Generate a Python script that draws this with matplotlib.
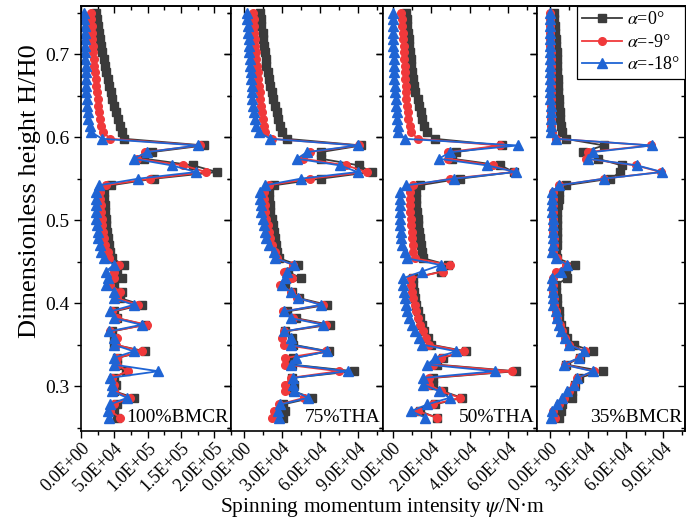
import matplotlib
matplotlib.use("Agg")
import matplotlib.pyplot as plt
from matplotlib.ticker import MultipleLocator, FuncFormatter

plt.rcParams['font.family'] = ['Liberation Serif', 'DejaVu Serif']
plt.rcParams['mathtext.fontset'] = 'stix'

SCALE = 1e4  # values below are in units of 1E+04 N*m

heights = [0.750, 0.742, 0.734, 0.726, 0.718, 0.710, 0.702, 0.694, 0.686, 0.678,
           0.670, 0.662, 0.654, 0.646, 0.638, 0.630, 0.622, 0.614, 0.606, 0.598,
           0.590, 0.582, 0.574, 0.566, 0.558, 0.550, 0.542, 0.534, 0.526, 0.518,
           0.510, 0.502, 0.494, 0.486, 0.478, 0.470, 0.462, 0.454, 0.446, 0.438,
           0.430, 0.422, 0.414, 0.406, 0.398, 0.390, 0.382, 0.374, 0.366, 0.358,
           0.350, 0.342, 0.334, 0.326, 0.318, 0.310, 0.302, 0.294, 0.286, 0.278,
           0.270, 0.262]

series_labels = [r'$\alpha$=0°', r'$\alpha$=-9°', r'$\alpha$=-18°']
panel_labels = ['100%BMCR', '75%THA', '50%THA', '35%BMCR']

# ---- 100%BMCR ----
bmcr100_a0 = [2.2, 2.4, 2.5, 2.7, 2.9, 3.0, 3.2, 3.4, 3.6, 3.8, 4.0, 4.2, 4.5, 4.7, 5.0, 5.3, 5.6, 5.9, 6.2, 6.5,
              18.5, 10.6, 9.5, 16.8, 20.4, 11.0, 4.5,
              3.5, 3.5, 3.6, 3.6, 3.7, 3.8, 3.9, 4.0, 4.2, 4.4,
              4.7, 6.4, 5.4, 6.2, 5.0, 6.2, 5.9, 9.1, 5.0, 5.4, 9.6, 4.7, 5.0, 5.0, 9.6, 5.4, 5.4, 6.8, 5.0, 5.2, 5.0, 7.9, 5.4, 5.0, 5.4]
bmcr100_a9 = [1.5, 1.55, 1.6, 1.65, 1.7, 1.75, 1.8, 1.9, 2.0, 2.1, 2.2, 2.3, 2.4, 2.5, 2.6, 2.7, 2.8, 3.0, 3.3, 4.4,
              17.8, 9.6, 8.4, 15.3, 18.8, 10.4, 3.7,
              2.9, 2.9, 3.0, 3.0, 3.1, 3.2, 3.3, 3.4, 3.6, 4.0,
              4.2, 5.7, 4.9, 4.9, 4.4, 5.9, 5.4, 8.6, 4.7, 5.4, 9.9, 4.4, 5.4, 5.2, 9.1, 5.4, 5.4, 7.0, 4.7, 4.9, 4.9, 7.4, 4.9, 4.4, 5.9]
bmcr100_a18 = [0.5, 0.5, 0.55, 0.55, 0.6, 0.6, 0.6, 0.65, 0.7, 0.7, 0.75, 0.75, 0.8, 0.85, 0.9, 1.0, 1.1, 1.3, 1.5, 3.2,
               17.5, 9.9, 7.9, 13.6, 17.3, 8.6, 2.7,
               2.2, 2.2, 2.2, 2.3, 2.3, 2.4, 2.5, 2.6, 2.8, 3.0,
               3.5, 4.9, 3.7, 4.0, 3.7, 4.9, 4.9, 7.9, 4.4, 4.9, 9.1, 4.2, 4.9, 4.9, 7.9, 4.9, 4.9, 11.6, 4.4, 4.7, 4.7, 6.9, 4.4, 4.0, 4.2]

# ---- 75%THA ----
tha75_a0 = [1.3, 1.35, 1.4, 1.5, 1.55, 1.6, 1.7, 1.75, 1.8, 1.9, 2.0, 2.1, 2.2, 2.3, 2.45, 2.6, 2.7, 2.85, 3.0, 3.4,
            9.3, 6.1, 6.1, 9.1, 10.1, 6.1, 2.4,
            2.0, 2.0, 2.05, 2.1, 2.2, 2.3, 2.4, 2.5, 2.55, 2.6,
            2.8, 4.3, 3.5, 4.5, 3.3, 3.8, 4.4, 6.6, 3.4, 4.1, 6.8, 3.3, 3.8, 3.9, 6.7, 3.9, 3.8, 8.7, 3.8, 4.0, 3.9, 5.4, 3.1, 3.3, 3.1]
tha75_a9 = [0.75, 0.78, 0.8, 0.85, 0.9, 0.92, 0.95, 1.0, 1.05, 1.1, 1.15, 1.2, 1.25, 1.3, 1.35, 1.45, 1.5, 1.6, 1.7, 2.2,
            9.1, 5.2, 4.7, 8.1, 9.7, 5.2, 2.0,
            1.6, 1.6, 1.65, 1.7, 1.8, 1.9, 2.0, 2.1, 2.2, 2.5,
            2.6, 3.9, 3.2, 3.8, 2.9, 3.7, 4.2, 6.3, 3.1, 3.9, 6.5, 3.2, 3.0, 3.2, 6.5, 3.3, 3.3, 7.5, 3.7, 3.3, 3.3, 4.8, 2.8, 2.4, 2.2]
tha75_a18 = [0.26, 0.3, 0.33, 0.36, 0.4, 0.43, 0.46, 0.5, 0.53, 0.56, 0.6, 0.62, 0.64, 0.66, 0.7, 0.78, 0.86, 0.96, 1.2, 2.1,
             9.0, 5.0, 4.2, 7.6, 9.0, 4.5, 1.7,
             1.3, 1.3, 1.35, 1.4, 1.5, 1.6, 1.7, 1.8, 2.0, 2.4,
             2.5, 4.0, 3.4, 3.3, 3.0, 3.7, 4.3, 6.1, 3.2, 3.7, 6.3, 3.2, 3.7, 3.7, 6.6, 4.1, 3.7, 8.2, 3.9, 3.9, 4.0, 5.1, 2.9, 2.7, 2.8]

# ---- 50%THA ----
tha50_a0 = [0.71, 0.74, 0.77, 0.8, 0.83, 0.86, 0.9, 0.93, 0.97, 1.0, 1.05, 1.1, 1.15, 1.3, 1.35, 1.45, 1.55, 1.65, 1.8, 2.2,
            5.7, 3.3, 3.1, 5.6, 6.3, 3.5, 1.4,
            1.2, 1.2, 1.2, 1.25, 1.3, 1.3, 1.35, 1.4, 1.45, 1.5,
            1.6, 2.9, 2.5, 1.05, 1.05, 1.1, 1.15, 1.2, 1.3, 1.4, 1.5, 1.65, 1.85, 2.0, 3.8, 2.6, 2.3, 6.4, 2.1, 2.1, 2.6, 3.6, 2.2, 1.4, 2.3]
tha50_a9 = [0.45, 0.47, 0.5, 0.52, 0.55, 0.57, 0.6, 0.61, 0.62, 0.64, 0.66, 0.68, 0.7, 0.71, 0.74, 0.78, 0.82, 0.88, 0.97, 1.3,
            5.6, 2.9, 2.9, 5.2, 6.3, 3.0, 1.06,
            0.9, 0.9, 0.9, 0.92, 0.95, 0.97, 1.0, 1.02, 1.05, 1.06,
            1.15, 2.96, 2.6, 0.97, 0.97, 1.0, 1.05, 1.14, 1.22, 1.31, 1.42, 1.57, 1.75, 1.9, 3.7, 2.5, 2.1, 6.2, 1.9, 1.9, 2.5, 3.5, 2.1, 1.3, 2.3]
tha50_a18 = [0.02, 0.02, 0.03, 0.03, 0.04, 0.04, 0.05, 0.05, 0.05, 0.07, 0.09, 0.11, 0.13, 0.15, 0.18, 0.21, 0.24, 0.27, 0.3, 0.62,
             6.5, 3.0, 2.4, 4.9, 6.4, 3.2, 0.71,
             0.36, 0.36, 0.36, 0.37, 0.38, 0.4, 0.42, 0.45, 0.5, 0.62,
             0.75, 2.5, 1.5, 0.54, 0.54, 0.58, 0.62, 0.7, 0.75, 0.85, 1.0, 1.14, 1.35, 1.55, 3.3, 2.2, 1.8, 5.3, 1.6, 1.6, 2.4, 2.96, 1.8, 0.97, 1.7]

# ---- 35%BMCR ----
bmcr35_a0 = [0.34, 0.37, 0.4, 0.45, 0.5, 0.52, 0.55, 0.58, 0.6, 0.62, 0.64, 0.66, 0.68, 0.73, 0.76, 0.8, 0.85, 0.9, 1.0, 1.26,
             4.3, 2.6, 3.8, 5.7, 5.6, 4.8, 1.26,
             0.75, 0.7, 0.65, 0.6, 0.6, 0.6, 0.6, 0.6, 0.55, 0.5,
             0.6, 2.0, 1.3, 1.4, 0.47, 0.5, 0.55, 0.6, 0.7, 0.75, 0.9, 1.1, 1.4, 1.9, 3.4, 2.4, 1.3, 4.2, 2.3, 2.0, 1.8, 1.8, 1.0, 0.86, 0.75]
bmcr35_a9 = [0.05, 0.05, 0.05, 0.06, 0.06, 0.06, 0.07, 0.07, 0.07, 0.08, 0.08, 0.08, 0.09, 0.09, 0.1, 0.1, 0.11, 0.12, 0.15, 0.5,
             8.0, 3.0, 2.9, 6.8, 8.8, 4.3, 0.74,
             0.25, 0.25, 0.25, 0.28, 0.3, 0.3, 0.3, 0.32, 0.32, 0.3,
             0.55, 1.3, 0.5, 0.3, 0.28, 0.3, 0.35, 0.38, 0.5, 0.6, 0.8, 0.95, 1.25, 1.55, 2.8, 2.3, 1.2, 3.5, 2.2, 1.9, 1.5, 1.1, 0.7, 0.3, 0.4]
bmcr35_a18 = [0.02, 0.02, 0.02, 0.03, 0.03, 0.03, 0.04, 0.04, 0.04, 0.05, 0.05, 0.05, 0.06, 0.06, 0.07, 0.07, 0.08, 0.09, 0.1, 0.47,
              8.1, 3.4, 3.0, 6.9, 8.9, 4.3, 0.74,
              0.2, 0.2, 0.2, 0.22, 0.24, 0.25, 0.26, 0.28, 0.28, 0.2,
              0.5, 1.4, 0.9, 0.2, 0.2, 0.25, 0.3, 0.3, 0.47, 0.55, 0.75, 0.9, 1.2, 1.5, 2.7, 2.3, 1.1, 3.4, 2.2, 1.9, 1.4, 1.0, 0.6, 0.2, 0.08]

panels = [
    (bmcr100_a0, bmcr100_a9, bmcr100_a18),
    (tha75_a0, tha75_a9, tha75_a18),
    (tha50_a0, tha50_a9, tha50_a18),
    (bmcr35_a0, bmcr35_a9, bmcr35_a18),
]
xlims = [(0, 22.5), (-1.0, 11.0), (-0.5, 7.5), (-1.0, 10.7)]
major_steps = [5.0, 3.0, 2.0, 3.0]

colors = ['#3b3b3b', '#f0393b', '#1f64d4']
markers = ['s', 'o', '^']
msizes = [5.5, 5.5, 6.5]

W, H = 686, 520
fig = plt.figure(figsize=(W / 100, H / 100), dpi=100)
edges = [81, 231, 383, 537, 685]
top_px, bot_px = 6, 431

fmt = FuncFormatter(lambda v, p: '%.1E' % v)
axes = []
for i in range(4):
    l, r = edges[i], edges[i + 1]
    ax = fig.add_axes([l / W, 1 - bot_px / H, (r - l) / W, (bot_px - top_px) / H])
    axes.append(ax)
    for j in range(3):
        ax.plot([v * SCALE for v in panels[i][j]], heights, color=colors[j], marker=markers[j],
                ms=msizes[j], mec=colors[j], mfc=colors[j], lw=1.3, label=series_labels[j])
    ax.set_xlim(xlims[i][0] * SCALE, xlims[i][1] * SCALE)
    ax.set_ylim(0.246, 0.758)
    xmaj = MultipleLocator(major_steps[i] * SCALE)
    xmin = MultipleLocator(major_steps[i] * SCALE / 2)
    ax.xaxis.set_major_locator(xmaj)
    ax.xaxis.set_minor_locator(xmin)
    ax.xaxis.set_major_formatter(fmt)
    ax.yaxis.set_major_locator(MultipleLocator(0.1))
    ax.yaxis.set_minor_locator(MultipleLocator(0.05))
    for s in ax.spines.values():
        s.set_linewidth(1.2)
    ax.tick_params(axis='both', which='both', direction='out', width=1.0, top=False, right=False)
    ax.tick_params(axis='x', which='major', length=5, labelsize=13, pad=1)
    ax.tick_params(axis='y', which='major', length=5, labelsize=14)
    ax.tick_params(axis='both', which='minor', length=3)
    for lab in ax.get_xticklabels():
        lab.set_rotation(45)
        lab.set_ha('right')
        lab.set_va('top')
        lab.set_rotation_mode('anchor')
    if i > 0:
        ax.tick_params(axis='y', labelleft=False)

    # inward ticks on the top and right frames
    sx = ax.secondary_xaxis('top')
    sx.xaxis.set_major_locator(MultipleLocator(major_steps[i] * SCALE))
    sx.xaxis.set_minor_locator(MultipleLocator(major_steps[i] * SCALE / 2))
    sx.tick_params(axis='x', which='both', direction='in', width=1.0, labeltop=False)
    sx.tick_params(axis='x', which='major', length=5)
    sx.tick_params(axis='x', which='minor', length=3)
    sx.spines['top'].set_linewidth(1.2)
    sy = ax.secondary_yaxis('right')
    sy.yaxis.set_major_locator(MultipleLocator(0.1))
    sy.yaxis.set_minor_locator(MultipleLocator(0.05))
    sy.tick_params(axis='y', which='both', direction='in', width=1.0, labelright=False)
    sy.tick_params(axis='y', which='major', length=5)
    sy.tick_params(axis='y', which='minor', length=3)
    sy.spines['right'].set_linewidth(1.2)

    ax.text(0.982, 0.022, panel_labels[i], transform=ax.transAxes, ha='right', va='baseline', fontsize=14)

fig.text(30 / W, 1 - 191 / H, 'Dimensionless height H/H0', rotation=90, ha='center', va='center', fontsize=19)
fig.text(383 / W, 1 - 512 / H, r'Spinning momentum intensity $\psi$/N·m', ha='center', va='baseline', fontsize=15.5)

leg = axes[3].legend(loc='upper right', bbox_to_anchor=(1.0, 1.0), borderaxespad=0, frameon=True,
                     fancybox=False, edgecolor='black', framealpha=1, fontsize=13, handlelength=2.2,
                     labelspacing=0.3, handletextpad=0.3, borderpad=0.3)
leg.get_frame().set_linewidth(0.9)
leg.set_zorder(10)

fig.savefig('out.png', dpi=100)
